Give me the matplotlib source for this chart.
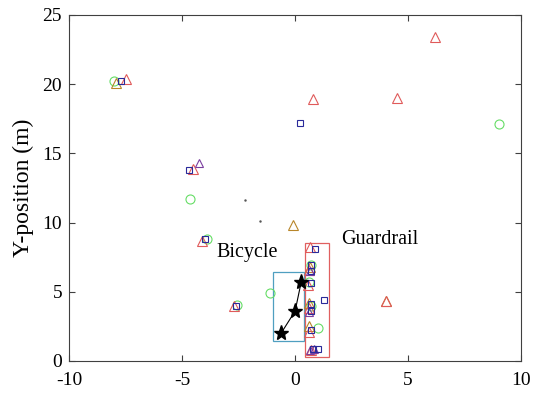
import matplotlib.pyplot as plt
from matplotlib.patches import Rectangle

plt.rcParams['font.family'] = ['Liberation Serif', 'DejaVu Serif']
plt.rcParams['axes.unicode_minus'] = False

# detections (x, y in metres)
red_tri_x = [-7.5, -4.5, -4.1, -2.7, 0.8, 4.5, 6.2, 0.65, 0.6, 0.55, 0.6, 0.6, 0.7, 4.0]
red_tri_y = [20.4, 13.9, 8.7, 4.0, 18.9, 19.0, 23.4, 8.2, 6.6, 5.5, 3.8, 2.1, 0.8, 4.3]

blue_sq_x = [-7.7, -4.7, -4.0, -2.6, 0.2, 0.9, 0.7, 0.7, 0.7, 0.7, 0.7, 0.7, 0.8, 1.0, 1.3]
blue_sq_y = [20.2, 13.8, 8.8, 4.0, 17.2, 8.1, 6.9, 6.5, 5.6, 4.1, 3.6, 2.2, 0.85, 0.85, 4.4]

green_c_x = [-8.0, -4.65, -3.9, -2.55, -1.1, 9.0, 1.0, 0.7, 0.6, 0.7]
green_c_y = [20.2, 11.7, 8.8, 4.05, 4.9, 17.1, 2.4, 6.9, 5.7, 4.0]

olive_tri_x = [-7.9, -0.1, 4.0, 0.65, 0.6, 0.6]
olive_tri_y = [20.1, 9.8, 4.3, 6.8, 4.2, 2.5]

purple_tri_x = [-4.25, 0.65, 0.6, 0.65, 0.85]
purple_tri_y = [14.3, 6.5, 3.5, 0.8, 0.85]

noise_x = [-2.2, -1.55]
noise_y = [11.6, 10.1]

bike_x = [-0.62, 0.0, 0.27]
bike_y = [2.0, 3.6, 5.7]

fig = plt.figure(figsize=(5.39, 3.94), dpi=100)
ax = fig.add_axes([0.128, 0.084, 0.839, 0.878])

mk = dict(linestyle='none', markerfacecolor='none', markeredgewidth=0.8)
ax.plot(green_c_x, green_c_y, 'o', color='#66dd66', markersize=6.5, **mk)
ax.plot(olive_tri_x, olive_tri_y, '^', color='#b8862a', markersize=6.5, **mk)
ax.plot(red_tri_x, red_tri_y, '^', color='#e05a5a', markersize=6.5, **mk)
ax.plot(purple_tri_x, purple_tri_y, '^', color='#7b3fa0', markersize=5.5, **mk)
ax.plot(blue_sq_x, blue_sq_y, 's', color='#2a2a9a', markersize=4.5, **mk)
ax.plot(noise_x, noise_y, '.', color='#555555', markersize=1.5)

ax.plot(bike_x, bike_y, '-', color='black', linewidth=0.8)
ax.plot(bike_x, bike_y, '*', color='black', markersize=11, linestyle='none')

# bicycle and guardrail boxes
ax.add_patch(Rectangle((-0.97, 1.45), 1.37, 4.98, fill=False, edgecolor='#4f9fc0', linewidth=0.9))
ax.add_patch(Rectangle((0.44, 0.29), 1.06, 8.24, fill=False, edgecolor='#e06060', linewidth=0.9))

ax.text(-2.1, 7.8, 'Bicycle', fontsize=14.5, ha='center', va='center')
ax.text(3.75, 8.8, 'Guardrail', fontsize=14.5, ha='center', va='center')

ax.set_xlim(-10, 10)
ax.set_ylim(0, 25)
ax.set_xticks([-10, -5, 0, 5, 10])
ax.set_yticks([0, 5, 10, 15, 20, 25])
ax.set_ylabel('Y-position (m)', fontsize=17, labelpad=6)
ax.tick_params(direction='in', top=True, right=True, labelsize=14, length=4, width=0.8,
               colors='#404040', labelcolor='black')
ax.tick_params(axis='x', pad=8)
ax.tick_params(axis='y', pad=5)
for s in ax.spines.values():
    s.set_color('#404040')
    s.set_linewidth(0.8)

fig.savefig('out.png', dpi=100)
